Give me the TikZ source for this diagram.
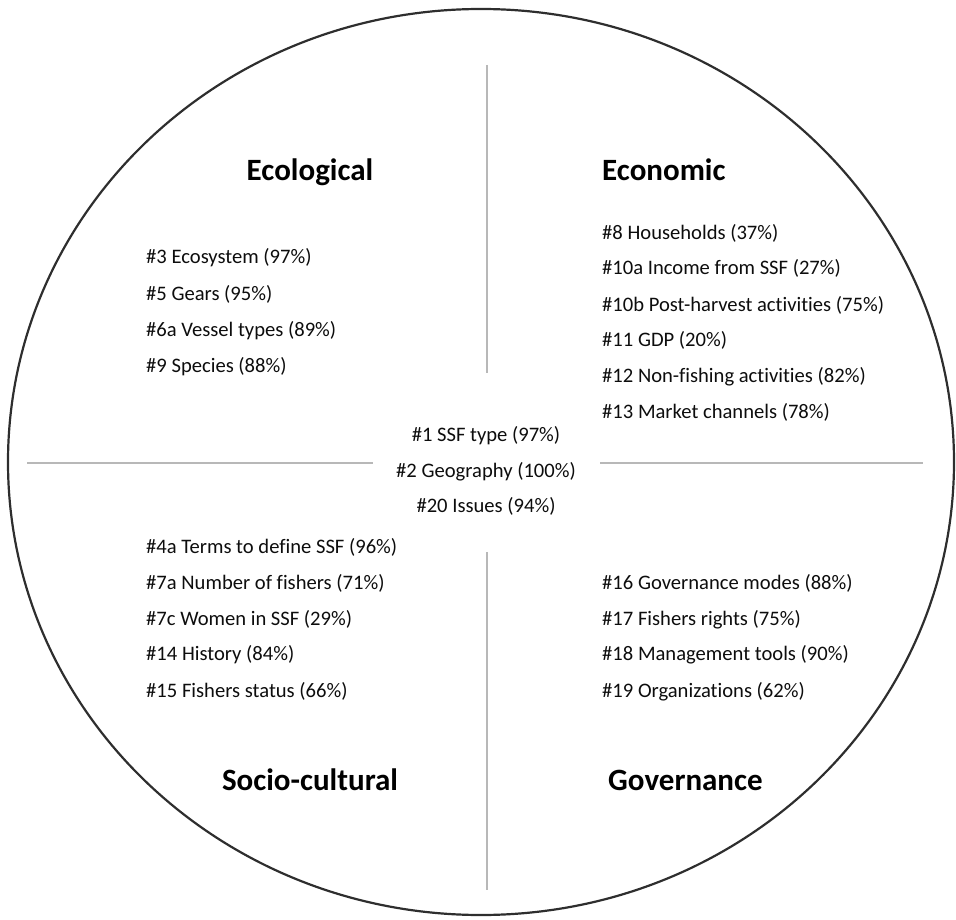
\documentclass[tikz,border=0pt]{standalone}
\usepackage{fontspec}
\setmainfont{Carlito}[Ligatures=NoCommon]
\usetikzlibrary{calc}

\tikzset{
  item/.style={anchor=base west, inner sep=0pt, text=black!95, font=\fontsize{20.6}{24}\selectfont},
  centreitem/.style={item, anchor=base},
  heading/.style={anchor=base, inner sep=0pt, text=black, font=\fontsize{31}{37}\selectfont\bfseries},
  divider/.style={draw=black!28, line width=1.6pt},
  rim/.style={draw=black!82, line width=2.2pt},
}

\begin{document}
\begin{tikzpicture}[x=1pt,y=-1pt]
        \newcommand{\figsdgcentx}{481}
        \newcommand{\figsdgcenty}{462}
        \newcommand{\figsdglinex}{487}
        \newcommand{\figsdgliney}{463}
        \newcommand{\figsdgleftx}{146}
        \newcommand{\figsdgrightx}{602}
        \newcommand{\figsdgheadleftx}{310}
        \useasboundingbox (0,0) rectangle (956,920);
        \draw[rim] (\figsdgcentx,\figsdgcenty) ellipse [x radius=473pt, y radius=453pt];
        \coordinate (vtop) at (\figsdglinex,65);
        \coordinate (vtopend) at (\figsdglinex,373);
        \coordinate (vbot) at (\figsdglinex,552);
        \coordinate (vbotend) at (\figsdglinex,890);
        \coordinate (hleft) at (27,\figsdgliney);
        \coordinate (hleftend) at (373,\figsdgliney);
        \coordinate (hright) at (600,\figsdgliney);
        \coordinate (hrightend) at (923,\figsdgliney);
        \draw[divider] (vtop) -- (vtopend);
        \draw[divider] (vbot) -- (vbotend);
        \draw[divider] (hleft) -- (hleftend);
        \draw[divider] (hright) -- (hrightend);
        % headings
        \node[heading] (ecohead) at (\figsdgheadleftx,181) {Ecological};
        \node[heading, anchor=base west] (econhead) at (\figsdgrightx,181) {Economic};
        \node[heading] (sochead) at (\figsdgheadleftx,790) {Socio-cultural};
        \node[heading, anchor=base west] (govhead) at (608,790) {Governance};
        % ecological
        \node[item] (eco3) at (\figsdgleftx,264) {\#3 Ecosystem (97\%)};
        \node[item] (eco5) at (\figsdgleftx,300) {\#5 Gears (95\%)};
        \node[item] (eco6a) at (\figsdgleftx,336) {\#6a Vessel types (89\%)};
        \node[item] (eco9) at (\figsdgleftx,372) {\#9 Species (88\%)};
        % economic
        \node[item] (econ8) at (\figsdgrightx,240) {\#8 Households (37\%)};
        \node[item] (econ10a) at (\figsdgrightx,275) {\#10a Income from SSF (27\%)};
        \node[item] (econ10b) at (\figsdgrightx,311) {\#10b Post-harvest activities (75\%)};
        \node[item] (econ11) at (\figsdgrightx,346) {\#11 GDP (20\%)};
        \node[item] (econ12) at (\figsdgrightx,382) {\#12 Non-fishing activities (82\%)};
        \node[item] (econ13) at (\figsdgrightx,418) {\#13 Market channels (78\%)};
        % centre
        \node[centreitem] (mid1) at (486,441) {\#1 SSF type (97\%)};
        \node[centreitem] (mid2) at (486,477) {\#2 Geography (100\%)};
        \node[centreitem] (mid20) at (486,512) {\#20 Issues (94\%)};
        % socio-cultural
        \node[item] (soc4a) at (\figsdgleftx,553) {\#4a Terms to define SSF (96\%)};
        \node[item] (soc7a) at (\figsdgleftx,589) {\#7a Number of fishers (71\%)};
        \node[item] (soc7c) at (\figsdgleftx,625) {\#7c Women in SSF (29\%)};
        \node[item] (soc14) at (\figsdgleftx,660) {\#14 History (84\%)};
        \node[item] (soc15) at (\figsdgleftx,697) {\#15 Fishers status (66\%)};
        % governance
        \node[item] (gov16) at (\figsdgrightx,589) {\#16 Governance modes (88\%)};
        \node[item] (gov17) at (\figsdgrightx,625) {\#17 Fishers rights (75\%)};
        \node[item] (gov18) at (\figsdgrightx,660) {\#18 Management tools (90\%)};
        \node[item] (gov19) at (\figsdgrightx,697) {\#19 Organizations (62\%)};
    \end{tikzpicture}
\end{document}
